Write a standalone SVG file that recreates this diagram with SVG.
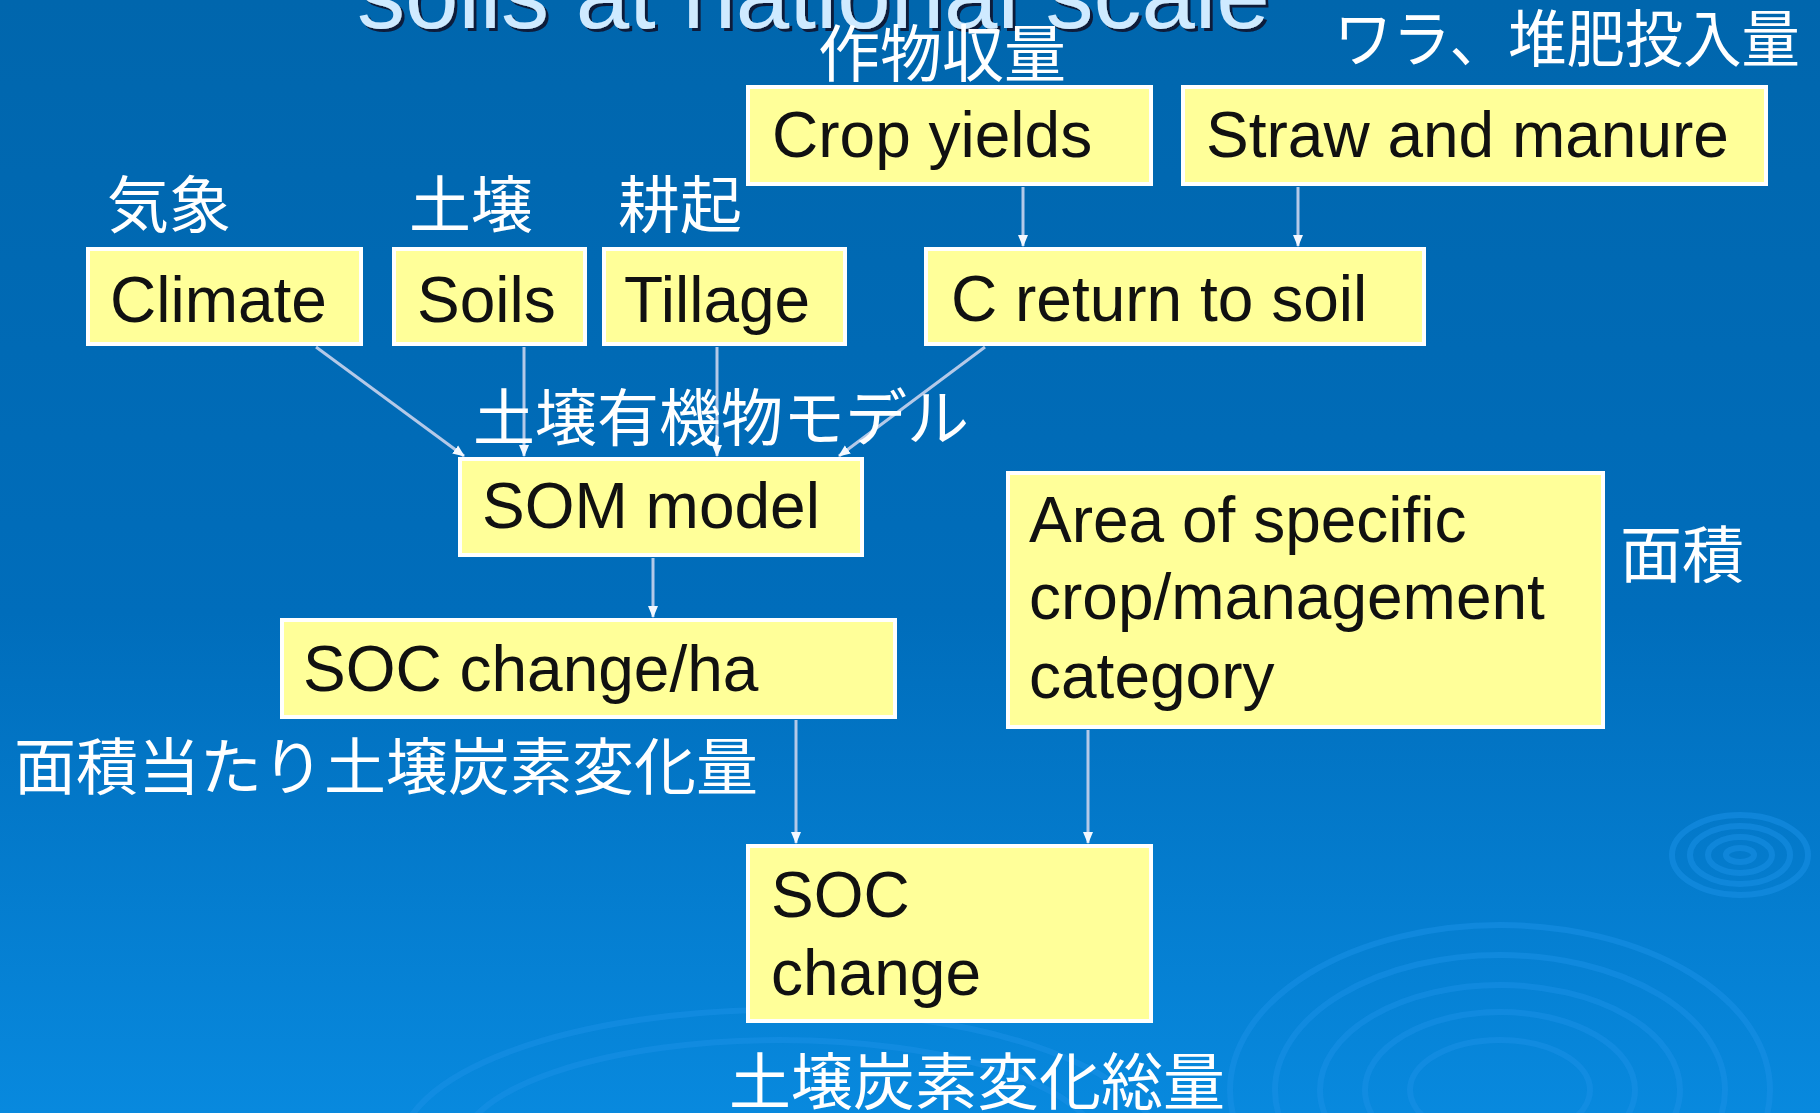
<svg xmlns="http://www.w3.org/2000/svg" width="1820" height="1113" viewBox="0 0 1820 1113">
<defs>
  <linearGradient id="bg" x1="0" y1="0" x2="0" y2="1">
    <stop offset="0" stop-color="#0066ad"/>
    <stop offset="0.55" stop-color="#006dbb"/>
    <stop offset="1" stop-color="#0889de"/>
  </linearGradient>
  <filter id="shadow" x="-5%" y="-50%" width="110%" height="200%">
    <feDropShadow dx="3" dy="3" stdDeviation="0.6" flood-color="#0a1a3a" flood-opacity="1"/>
  </filter>
  <marker id="ah" markerUnits="userSpaceOnUse" markerWidth="12" markerHeight="12" refX="11" refY="6" orient="auto" viewBox="0 0 12 12">
    <path d="M0,1 L12,6 L0,11 z" fill="#f4f8ff"/>
  </marker>
  <style>
    .box{fill:#ffff99;stroke:#ffffff;stroke-width:4}
    .lbl{font-family:"Liberation Sans",Arial,sans-serif;font-size:64px;fill:#111111}
    .jp{font-family:"Noto Sans CJK JP","Noto Sans CJK SC",sans-serif;font-size:62px;fill:#ffffff}
    .conn line{stroke:#b4c9e8;stroke-width:3;marker-end:url(#ah)}
    .rip{fill:none;stroke:#1a8fe6;stroke-width:6;opacity:0.55}
    .title{font-family:"Liberation Sans",Arial,sans-serif;font-size:96px;fill:#cfeaff}
  </style>
</defs>
<rect x="0" y="0" width="1820" height="1113" fill="url(#bg)"/>
<g id="ripples">
  <ellipse class="rip" cx="1740" cy="855" rx="68" ry="40"/>
  <ellipse class="rip" cx="1740" cy="855" rx="50" ry="29"/>
  <ellipse class="rip" cx="1740" cy="855" rx="32" ry="18"/>
  <ellipse class="rip" cx="1740" cy="855" rx="14" ry="7"/>
  <ellipse class="rip" cx="1500" cy="1090" rx="270" ry="165" opacity="0.4"/>
  <ellipse class="rip" cx="1500" cy="1090" rx="225" ry="135" opacity="0.4"/>
  <ellipse class="rip" cx="1500" cy="1090" rx="180" ry="105" opacity="0.4"/>
  <ellipse class="rip" cx="1500" cy="1090" rx="135" ry="78" opacity="0.4"/>
  <ellipse class="rip" cx="1500" cy="1090" rx="90" ry="50" opacity="0.4"/>
  <ellipse class="rip" cx="780" cy="1150" rx="380" ry="140" opacity="0.3"/>
  <ellipse class="rip" cx="780" cy="1150" rx="320" ry="110" opacity="0.3"/>
</g>
<g id="title">
  <text class="title" x="357" y="28" filter="url(#shadow)">soils at national scale</text>
</g>
<g id="connectors" class="conn">
  <line x1="1023" y1="187" x2="1023" y2="246"/>
  <line x1="1298" y1="187" x2="1298" y2="246"/>
  <line x1="316" y1="347" x2="464" y2="456"/>
  <line x1="524" y1="347" x2="524" y2="456"/>
  <line x1="717" y1="347" x2="717" y2="456"/>
  <line x1="985" y1="347" x2="839" y2="456"/>
  <line x1="653" y1="558" x2="653" y2="617"/>
  <line x1="796" y1="720" x2="796" y2="843"/>
  <line x1="1088" y1="730" x2="1088" y2="843"/>
</g>
<g id="crop-yields">
  <text class="jp" x="818" y="77">作物収量</text>
  <rect class="box" x="748" y="87" width="403" height="97"/>
  <text class="lbl" x="772" y="157">Crop yields</text>
</g>
<g id="straw-manure">
  <text class="jp" x="1334" y="62" font-size="60" textLength="466" lengthAdjust="spacingAndGlyphs">ワラ、堆肥投入量</text>
  <rect class="box" x="1183" y="87" width="583" height="97"/>
  <text class="lbl" x="1206" y="157">Straw and manure</text>
</g>
<g id="climate">
  <text class="jp" x="107" y="228" font-size="60">気象</text>
  <rect class="box" x="88" y="249" width="273" height="95"/>
  <text class="lbl" x="110" y="322">Climate</text>
</g>
<g id="soils">
  <text class="jp" x="409" y="228" font-size="60">土壌</text>
  <rect class="box" x="394" y="249" width="191" height="95"/>
  <text class="lbl" x="417" y="322">Soils</text>
</g>
<g id="tillage">
  <text class="jp" x="618" y="228" font-size="60">耕起</text>
  <rect class="box" x="604" y="249" width="241" height="95"/>
  <text class="lbl" x="624" y="322">Tillage</text>
</g>
<g id="c-return">
  <rect class="box" x="926" y="249" width="498" height="95"/>
  <text class="lbl" x="951" y="321">C return to soil</text>
</g>
<g id="som-model">
  <text class="jp" x="473" y="441">土壌有機物モデル</text>
  <rect class="box" x="460" y="459" width="402" height="96"/>
  <text class="lbl" x="482" y="528">SOM model</text>
</g>
<g id="soc-change-ha">
  <rect class="box" x="282" y="620" width="613" height="97"/>
  <text class="lbl" x="303" y="691">SOC change/ha</text>
  <text class="jp" x="14" y="790">面積当たり土壌炭素変化量</text>
</g>
<g id="area">
  <rect class="box" x="1008" y="473" width="595" height="254"/>
  <text class="lbl" x="1029" y="542">Area of specific</text>
  <text class="lbl" x="1029" y="619">crop/management</text>
  <text class="lbl" x="1029" y="698">category</text>
  <text class="jp" x="1620" y="578" font-size="60">面積</text>
</g>
<g id="soc-change">
  <rect class="box" x="748" y="846" width="403" height="175"/>
  <text class="lbl" x="771" y="917">SOC</text>
  <text class="lbl" x="771" y="995">change</text>
  <text class="jp" x="729" y="1105" font-size="63">土壌炭素変化総量</text>
</g>
</svg>
